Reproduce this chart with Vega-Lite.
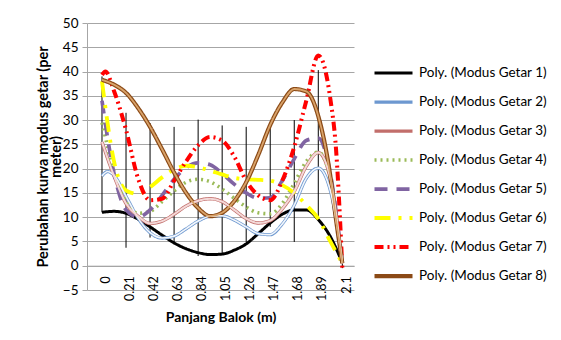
{
  "$schema": "https://vega.github.io/schema/vega-lite/v6.json",
  "width": 267,
  "height": 267,
  "autosize": {"type": "none"},
  "padding": {"left": 87, "top": 23, "right": 207, "bottom": 50},
  "background": "white",
  "config": {
    "font": "Lato",
    "view": {"stroke": null},
    "axis": {"labelColor": "black", "titleColor": "black", "labelFont": "Lato", "titleFont": "Lato"},
    "legend": {"labelFont": "Lato"}
  },
  "datasets": {
    "hilo": [
      {"x": 0, "y": 11.0, "y2": 39.0},
      {"x": 0.21, "y": 3.7, "y2": 31.5},
      {"x": 0.42, "y": 5.8, "y2": 29.4},
      {"x": 0.63, "y": 4.4, "y2": 28.6},
      {"x": 0.84, "y": 2.0, "y2": 30.1},
      {"x": 1.05, "y": 2.2, "y2": 28.9},
      {"x": 1.26, "y": 4.9, "y2": 28.6},
      {"x": 1.47, "y": 8.0, "y2": 28.8},
      {"x": 1.68, "y": 4.9, "y2": 30.0},
      {"x": 1.89, "y": 9.5, "y2": 40.3},
      {"x": 2.1, "y": -0.5, "y2": 1.0}
    ],
    "curves": [
      {"series": "Poly. (Modus Getar 1)", "x": 0, "y": 11.0},
      {"series": "Poly. (Modus Getar 1)", "x": 0.105, "y": 11.2},
      {"series": "Poly. (Modus Getar 1)", "x": 0.21, "y": 10.8},
      {"series": "Poly. (Modus Getar 1)", "x": 0.315, "y": 9.6},
      {"series": "Poly. (Modus Getar 1)", "x": 0.42, "y": 8.0},
      {"series": "Poly. (Modus Getar 1)", "x": 0.525, "y": 6.3},
      {"series": "Poly. (Modus Getar 1)", "x": 0.63, "y": 4.7},
      {"series": "Poly. (Modus Getar 1)", "x": 0.735, "y": 3.5},
      {"series": "Poly. (Modus Getar 1)", "x": 0.84, "y": 2.7},
      {"series": "Poly. (Modus Getar 1)", "x": 0.945, "y": 2.3},
      {"series": "Poly. (Modus Getar 1)", "x": 1.05, "y": 2.4},
      {"series": "Poly. (Modus Getar 1)", "x": 1.155, "y": 3.2},
      {"series": "Poly. (Modus Getar 1)", "x": 1.26, "y": 4.5},
      {"series": "Poly. (Modus Getar 1)", "x": 1.365, "y": 6.6},
      {"series": "Poly. (Modus Getar 1)", "x": 1.47, "y": 8.8},
      {"series": "Poly. (Modus Getar 1)", "x": 1.575, "y": 10.6},
      {"series": "Poly. (Modus Getar 1)", "x": 1.68, "y": 11.5},
      {"series": "Poly. (Modus Getar 1)", "x": 1.785, "y": 11.5},
      {"series": "Poly. (Modus Getar 1)", "x": 1.89, "y": 9.5},
      {"series": "Poly. (Modus Getar 1)", "x": 1.995, "y": 6.0},
      {"series": "Poly. (Modus Getar 1)", "x": 2.1, "y": 0.6},

      {"series": "Poly. (Modus Getar 2)", "x": 0, "y": 18.5},
      {"series": "Poly. (Modus Getar 2)", "x": 0.05, "y": 19.4},
      {"series": "Poly. (Modus Getar 2)", "x": 0.105, "y": 18.6},
      {"series": "Poly. (Modus Getar 2)", "x": 0.21, "y": 14.3},
      {"series": "Poly. (Modus Getar 2)", "x": 0.315, "y": 9.8},
      {"series": "Poly. (Modus Getar 2)", "x": 0.42, "y": 6.8},
      {"series": "Poly. (Modus Getar 2)", "x": 0.525, "y": 5.7},
      {"series": "Poly. (Modus Getar 2)", "x": 0.63, "y": 6.1},
      {"series": "Poly. (Modus Getar 2)", "x": 0.735, "y": 7.6},
      {"series": "Poly. (Modus Getar 2)", "x": 0.84, "y": 9.2},
      {"series": "Poly. (Modus Getar 2)", "x": 0.945, "y": 10.2},
      {"series": "Poly. (Modus Getar 2)", "x": 1.05, "y": 10.3},
      {"series": "Poly. (Modus Getar 2)", "x": 1.155, "y": 9.4},
      {"series": "Poly. (Modus Getar 2)", "x": 1.26, "y": 8.0},
      {"series": "Poly. (Modus Getar 2)", "x": 1.365, "y": 6.6},
      {"series": "Poly. (Modus Getar 2)", "x": 1.47, "y": 6.4},
      {"series": "Poly. (Modus Getar 2)", "x": 1.575, "y": 8.6},
      {"series": "Poly. (Modus Getar 2)", "x": 1.68, "y": 12.5},
      {"series": "Poly. (Modus Getar 2)", "x": 1.785, "y": 18.0},
      {"series": "Poly. (Modus Getar 2)", "x": 1.89, "y": 20.1},
      {"series": "Poly. (Modus Getar 2)", "x": 1.995, "y": 15.5},
      {"series": "Poly. (Modus Getar 2)", "x": 2.1, "y": 0.8},

      {"series": "Poly. (Modus Getar 3)", "x": 0, "y": 25.5},
      {"series": "Poly. (Modus Getar 3)", "x": 0.105, "y": 18.5},
      {"series": "Poly. (Modus Getar 3)", "x": 0.21, "y": 12.8},
      {"series": "Poly. (Modus Getar 3)", "x": 0.315, "y": 10.2},
      {"series": "Poly. (Modus Getar 3)", "x": 0.42, "y": 8.7},
      {"series": "Poly. (Modus Getar 3)", "x": 0.525, "y": 9.2},
      {"series": "Poly. (Modus Getar 3)", "x": 0.63, "y": 10.6},
      {"series": "Poly. (Modus Getar 3)", "x": 0.735, "y": 12.3},
      {"series": "Poly. (Modus Getar 3)", "x": 0.84, "y": 13.4},
      {"series": "Poly. (Modus Getar 3)", "x": 0.945, "y": 13.8},
      {"series": "Poly. (Modus Getar 3)", "x": 1.05, "y": 13.2},
      {"series": "Poly. (Modus Getar 3)", "x": 1.155, "y": 11.5},
      {"series": "Poly. (Modus Getar 3)", "x": 1.26, "y": 9.7},
      {"series": "Poly. (Modus Getar 3)", "x": 1.365, "y": 8.8},
      {"series": "Poly. (Modus Getar 3)", "x": 1.47, "y": 9.3},
      {"series": "Poly. (Modus Getar 3)", "x": 1.575, "y": 11.7},
      {"series": "Poly. (Modus Getar 3)", "x": 1.68, "y": 15.3},
      {"series": "Poly. (Modus Getar 3)", "x": 1.785, "y": 20.5},
      {"series": "Poly. (Modus Getar 3)", "x": 1.89, "y": 23.3},
      {"series": "Poly. (Modus Getar 3)", "x": 1.995, "y": 18.0},
      {"series": "Poly. (Modus Getar 3)", "x": 2.1, "y": 0.5},

      {"series": "Poly. (Modus Getar 4)", "x": 0, "y": 29.5},
      {"series": "Poly. (Modus Getar 4)", "x": 0.105, "y": 19.5},
      {"series": "Poly. (Modus Getar 4)", "x": 0.21, "y": 13.5},
      {"series": "Poly. (Modus Getar 4)", "x": 0.315, "y": 10.8},
      {"series": "Poly. (Modus Getar 4)", "x": 0.42, "y": 11.2},
      {"series": "Poly. (Modus Getar 4)", "x": 0.525, "y": 13.2},
      {"series": "Poly. (Modus Getar 4)", "x": 0.63, "y": 15.4},
      {"series": "Poly. (Modus Getar 4)", "x": 0.735, "y": 17.2},
      {"series": "Poly. (Modus Getar 4)", "x": 0.84, "y": 17.8},
      {"series": "Poly. (Modus Getar 4)", "x": 0.945, "y": 17.3},
      {"series": "Poly. (Modus Getar 4)", "x": 1.05, "y": 15.8},
      {"series": "Poly. (Modus Getar 4)", "x": 1.155, "y": 13.9},
      {"series": "Poly. (Modus Getar 4)", "x": 1.26, "y": 12.1},
      {"series": "Poly. (Modus Getar 4)", "x": 1.365, "y": 10.9},
      {"series": "Poly. (Modus Getar 4)", "x": 1.47, "y": 10.7},
      {"series": "Poly. (Modus Getar 4)", "x": 1.575, "y": 12.8},
      {"series": "Poly. (Modus Getar 4)", "x": 1.68, "y": 17.0},
      {"series": "Poly. (Modus Getar 4)", "x": 1.785, "y": 21.5},
      {"series": "Poly. (Modus Getar 4)", "x": 1.89, "y": 23.4},
      {"series": "Poly. (Modus Getar 4)", "x": 1.995, "y": 18.0},
      {"series": "Poly. (Modus Getar 4)", "x": 2.1, "y": 0.5},

      {"series": "Poly. (Modus Getar 5)", "x": 0, "y": 34.0},
      {"series": "Poly. (Modus Getar 5)", "x": 0.105, "y": 19.0},
      {"series": "Poly. (Modus Getar 5)", "x": 0.21, "y": 11.5},
      {"series": "Poly. (Modus Getar 5)", "x": 0.315, "y": 10.0},
      {"series": "Poly. (Modus Getar 5)", "x": 0.42, "y": 11.5},
      {"series": "Poly. (Modus Getar 5)", "x": 0.525, "y": 14.5},
      {"series": "Poly. (Modus Getar 5)", "x": 0.63, "y": 17.8},
      {"series": "Poly. (Modus Getar 5)", "x": 0.735, "y": 20.2},
      {"series": "Poly. (Modus Getar 5)", "x": 0.84, "y": 21.2},
      {"series": "Poly. (Modus Getar 5)", "x": 0.945, "y": 20.8},
      {"series": "Poly. (Modus Getar 5)", "x": 1.05, "y": 19.0},
      {"series": "Poly. (Modus Getar 5)", "x": 1.155, "y": 16.8},
      {"series": "Poly. (Modus Getar 5)", "x": 1.26, "y": 15.0},
      {"series": "Poly. (Modus Getar 5)", "x": 1.365, "y": 13.9},
      {"series": "Poly. (Modus Getar 5)", "x": 1.47, "y": 14.0},
      {"series": "Poly. (Modus Getar 5)", "x": 1.575, "y": 17.5},
      {"series": "Poly. (Modus Getar 5)", "x": 1.68, "y": 22.0},
      {"series": "Poly. (Modus Getar 5)", "x": 1.785, "y": 25.8},
      {"series": "Poly. (Modus Getar 5)", "x": 1.89, "y": 26.3},
      {"series": "Poly. (Modus Getar 5)", "x": 1.995, "y": 19.0},
      {"series": "Poly. (Modus Getar 5)", "x": 2.1, "y": 0.5},

      {"series": "Poly. (Modus Getar 6)", "x": 0, "y": 38.0},
      {"series": "Poly. (Modus Getar 6)", "x": 0.105, "y": 21.5},
      {"series": "Poly. (Modus Getar 6)", "x": 0.21, "y": 15.5},
      {"series": "Poly. (Modus Getar 6)", "x": 0.315, "y": 14.8},
      {"series": "Poly. (Modus Getar 6)", "x": 0.42, "y": 16.2},
      {"series": "Poly. (Modus Getar 6)", "x": 0.525, "y": 18.2},
      {"series": "Poly. (Modus Getar 6)", "x": 0.63, "y": 19.8},
      {"series": "Poly. (Modus Getar 6)", "x": 0.735, "y": 20.6},
      {"series": "Poly. (Modus Getar 6)", "x": 0.84, "y": 20.3},
      {"series": "Poly. (Modus Getar 6)", "x": 0.945, "y": 19.6},
      {"series": "Poly. (Modus Getar 6)", "x": 1.05, "y": 18.8},
      {"series": "Poly. (Modus Getar 6)", "x": 1.155, "y": 18.1},
      {"series": "Poly. (Modus Getar 6)", "x": 1.26, "y": 17.8},
      {"series": "Poly. (Modus Getar 6)", "x": 1.365, "y": 17.7},
      {"series": "Poly. (Modus Getar 6)", "x": 1.47, "y": 17.5},
      {"series": "Poly. (Modus Getar 6)", "x": 1.575, "y": 16.6},
      {"series": "Poly. (Modus Getar 6)", "x": 1.68, "y": 15.0},
      {"series": "Poly. (Modus Getar 6)", "x": 1.785, "y": 12.5},
      {"series": "Poly. (Modus Getar 6)", "x": 1.89, "y": 9.7},
      {"series": "Poly. (Modus Getar 6)", "x": 1.995, "y": 5.0},
      {"series": "Poly. (Modus Getar 6)", "x": 2.1, "y": 0.5},

      {"series": "Poly. (Modus Getar 7)", "x": 0, "y": 39.3},
      {"series": "Poly. (Modus Getar 7)", "x": 0.03, "y": 40.0},
      {"series": "Poly. (Modus Getar 7)", "x": 0.105, "y": 36.0},
      {"series": "Poly. (Modus Getar 7)", "x": 0.21, "y": 28.0},
      {"series": "Poly. (Modus Getar 7)", "x": 0.315, "y": 18.0},
      {"series": "Poly. (Modus Getar 7)", "x": 0.42, "y": 13.5},
      {"series": "Poly. (Modus Getar 7)", "x": 0.525, "y": 13.8},
      {"series": "Poly. (Modus Getar 7)", "x": 0.63, "y": 17.5},
      {"series": "Poly. (Modus Getar 7)", "x": 0.735, "y": 21.5},
      {"series": "Poly. (Modus Getar 7)", "x": 0.84, "y": 24.8},
      {"series": "Poly. (Modus Getar 7)", "x": 0.945, "y": 26.5},
      {"series": "Poly. (Modus Getar 7)", "x": 1.05, "y": 25.8},
      {"series": "Poly. (Modus Getar 7)", "x": 1.155, "y": 22.5},
      {"series": "Poly. (Modus Getar 7)", "x": 1.26, "y": 17.5},
      {"series": "Poly. (Modus Getar 7)", "x": 1.365, "y": 14.5},
      {"series": "Poly. (Modus Getar 7)", "x": 1.47, "y": 13.5},
      {"series": "Poly. (Modus Getar 7)", "x": 1.575, "y": 17.5},
      {"series": "Poly. (Modus Getar 7)", "x": 1.68, "y": 24.5},
      {"series": "Poly. (Modus Getar 7)", "x": 1.785, "y": 34.0},
      {"series": "Poly. (Modus Getar 7)", "x": 1.89, "y": 43.3},
      {"series": "Poly. (Modus Getar 7)", "x": 1.995, "y": 34.4},
      {"series": "Poly. (Modus Getar 7)", "x": 2.045, "y": 24.0},
      {"series": "Poly. (Modus Getar 7)", "x": 2.1, "y": -0.5},

      {"series": "Poly. (Modus Getar 8)", "x": 0, "y": 38.3},
      {"series": "Poly. (Modus Getar 8)", "x": 0.105, "y": 37.3},
      {"series": "Poly. (Modus Getar 8)", "x": 0.21, "y": 35.6},
      {"series": "Poly. (Modus Getar 8)", "x": 0.315, "y": 32.5},
      {"series": "Poly. (Modus Getar 8)", "x": 0.42, "y": 28.6},
      {"series": "Poly. (Modus Getar 8)", "x": 0.525, "y": 24.0},
      {"series": "Poly. (Modus Getar 8)", "x": 0.63, "y": 19.2},
      {"series": "Poly. (Modus Getar 8)", "x": 0.735, "y": 15.0},
      {"series": "Poly. (Modus Getar 8)", "x": 0.84, "y": 11.9},
      {"series": "Poly. (Modus Getar 8)", "x": 0.945, "y": 10.2},
      {"series": "Poly. (Modus Getar 8)", "x": 1.05, "y": 10.9},
      {"series": "Poly. (Modus Getar 8)", "x": 1.155, "y": 13.3},
      {"series": "Poly. (Modus Getar 8)", "x": 1.26, "y": 17.2},
      {"series": "Poly. (Modus Getar 8)", "x": 1.365, "y": 22.8},
      {"series": "Poly. (Modus Getar 8)", "x": 1.47, "y": 29.0},
      {"series": "Poly. (Modus Getar 8)", "x": 1.575, "y": 33.6},
      {"series": "Poly. (Modus Getar 8)", "x": 1.68, "y": 36.4},
      {"series": "Poly. (Modus Getar 8)", "x": 1.785, "y": 35.9},
      {"series": "Poly. (Modus Getar 8)", "x": 1.89, "y": 30.8},
      {"series": "Poly. (Modus Getar 8)", "x": 1.995, "y": 18.5},
      {"series": "Poly. (Modus Getar 8)", "x": 2.045, "y": 9.5},
      {"series": "Poly. (Modus Getar 8)", "x": 2.1, "y": 0.5}
    ]
  },
  "encoding": {
    "x": {
      "field": "x",
      "type": "quantitative",
      "title": "Panjang Balok (m)",
      "scale": {"domain": [-0.131, 2.202], "nice": false, "zero": false},
      "axis": {
        "values": [0, 0.21, 0.42, 0.63, 0.84, 1.05, 1.26, 1.47, 1.68, 1.89, 2.1],
        "format": ".2~f",
        "labelAngle": -90,
        "labelOffset": 3.7,
        "ticks": false,
        "grid": false,
        "domain": true,
        "domainColor": "#A6A6A6",
        "offset": -24.3,
        "labelPadding": 10,
        "labelFontSize": 12.5,
        "labelFlush": false,
        "labelOverlap": false,
        "titleFontSize": 14,
        "titleFontWeight": "bold",
        "titlePadding": 10
      }
    },
    "y": {
      "field": "y",
      "type": "quantitative",
      "title": ["Perubahan kurva modus getar (per", "meter)"],
      "scale": {"domain": [-5, 50], "nice": false, "zero": false},
      "axis": {
        "values": [-5, 0, 5, 10, 15, 20, 25, 30, 35, 40, 45, 50],
        "grid": true,
        "gridColor": "#A6A6A6",
        "gridWidth": 1,
        "domainColor": "#A6A6A6",
        "tickColor": "#A6A6A6",
        "tickSize": 5,
        "labelPadding": 4,
        "labelFontSize": 13.5,
        "titleFontSize": 14.5,
        "titleFontWeight": "bold",
        "titlePadding": -1,
        "titleLineHeight": 12.5
      }
    }
  },
  "layer": [
    {
      "data": {"name": "hilo"},
      "mark": {"type": "rule", "color": "black", "strokeWidth": 1},
      "encoding": {"y2": {"field": "y2"}}
    },
    {
      "data": {"name": "curves"},
      "mark": {"type": "line", "interpolate": "monotone"},
      "encoding": {
        "color": {
          "field": "series", "type": "nominal",
          "scale": {
            "domain": ["Poly. (Modus Getar 1)", "Poly. (Modus Getar 2)", "Poly. (Modus Getar 3)", "Poly. (Modus Getar 4)", "Poly. (Modus Getar 5)", "Poly. (Modus Getar 6)", "Poly. (Modus Getar 7)", "Poly. (Modus Getar 8)"],
            "range": ["#000000", "#6D98D0", "#C26E6B", "#9BBB59", "#8064A2", "#FFFF00", "#FF0000", "#8B4A16"]
          },
          "legend": {"orient": "none", "legendX": 285, "legendY": 36, "title": null, "symbolType": "stroke", "symbolSize": 1444, "clipHeight": 28.1, "rowPadding": 0, "labelFontSize": 13.5, "labelColor": "black", "labelOffset": 4, "labelLimit": 200}
        },
        "strokeDash": {
          "field": "series", "type": "nominal",
          "scale": {
            "domain": ["Poly. (Modus Getar 1)", "Poly. (Modus Getar 2)", "Poly. (Modus Getar 3)", "Poly. (Modus Getar 4)", "Poly. (Modus Getar 5)", "Poly. (Modus Getar 6)", "Poly. (Modus Getar 7)", "Poly. (Modus Getar 8)"],
            "range": [[1, 0], [1, 0], [1, 0], [2, 4], [13, 9], [16, 8, 3, 8], [9, 4, 2, 4, 2, 4], [1, 0]]
          },
          "legend": {"orient": "none", "legendX": 285, "legendY": 36, "title": null, "symbolType": "stroke", "symbolSize": 1444, "clipHeight": 28.1, "rowPadding": 0, "labelFontSize": 13.5, "labelColor": "black", "labelOffset": 4, "labelLimit": 200}
        },
        "strokeWidth": {
          "field": "series", "type": "nominal",
          "scale": {
            "domain": ["Poly. (Modus Getar 1)", "Poly. (Modus Getar 2)", "Poly. (Modus Getar 3)", "Poly. (Modus Getar 4)", "Poly. (Modus Getar 5)", "Poly. (Modus Getar 6)", "Poly. (Modus Getar 7)", "Poly. (Modus Getar 8)"],
            "range": [3, 4.2, 5.5, 2.5, 4, 3, 1.5, 5.5]
          },
          "legend": {"orient": "none", "legendX": 285, "legendY": 36, "title": null, "symbolType": "stroke", "symbolSize": 1444, "clipHeight": 28.1, "rowPadding": 0, "labelFontSize": 13.5, "labelColor": "black", "labelOffset": 4, "labelLimit": 200}
        }
      }
    },
    {
      "data": {"name": "curves"},
      "transform": [{"filter": {"field": "series", "equal": "Poly. (Modus Getar 2)"}}],
      "mark": {"type": "line", "interpolate": "monotone", "color": "#F2F6FB", "strokeWidth": 1.6},
      "encoding": {}
    },
    {
      "data": {"name": "curves"},
      "transform": [{"filter": {"field": "series", "equal": "Poly. (Modus Getar 3)"}}],
      "mark": {"type": "line", "interpolate": "monotone", "color": "#F4D9D8", "strokeWidth": 2},
      "encoding": {}
    },
    {
      "data": {"name": "curves"},
      "transform": [{"filter": {"field": "series", "equal": "Poly. (Modus Getar 8)"}}],
      "mark": {"type": "line", "interpolate": "monotone", "color": "#D9A36A", "strokeWidth": 1.8},
      "encoding": {}
    }
  ]
}
